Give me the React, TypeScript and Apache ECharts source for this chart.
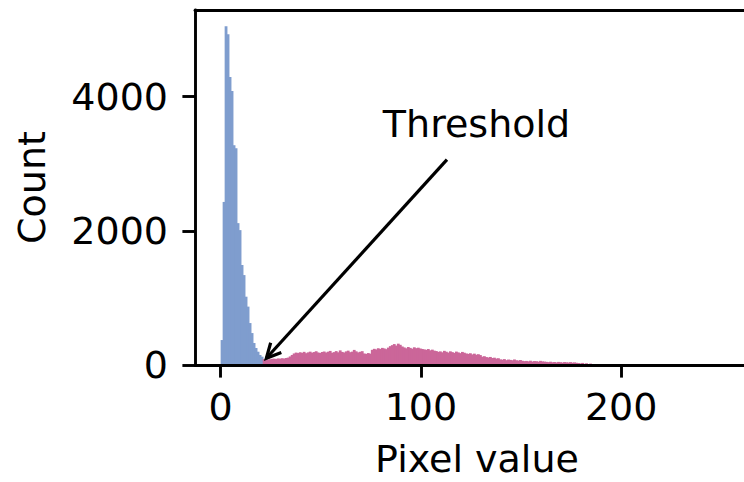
import React, { useEffect, useRef } from 'react';
import * as echarts from 'echarts';

// Histogram bins of width 1 (bin i covers [i, i+1))
const blueStart = 0;
const blueCounts = [
  372, 2430, 5047, 4930, 4290, 4084, 3275, 3230, 2114, 2010,
  1490, 1340, 1018, 870, 625, 476, 328, 253, 198, 149, 124,
];
const pinkStart = 21;
const pinkCounts = [
  // 21-35
  88, 82, 79, 86, 92, 95, 90, 98, 94, 101, 96, 104, 110, 128, 150,
  // 36-50
  172, 185, 178, 190, 181, 196, 176, 188, 199, 184, 193, 205, 187, 179, 194,
  // 51-70
  201, 186, 198, 210, 183, 192, 207, 189, 218, 195, 186, 203, 214, 191, 199, 225, 204, 188, 197, 206,
  // 71-74
  172, 165, 178, 169,
  // 75-83
  226, 241, 232, 250, 238, 255, 247, 236, 259,
  // 84-90
  281, 296, 312, 290, 318, 301, 276,
  // 91-100
  262, 249, 268, 255, 243, 264, 251, 258, 246, 239,
  // 101-106
  233, 226, 238, 219, 229, 214,
  // 107-121
  208, 196, 203, 189, 211, 198, 185, 204, 192, 181, 200, 188, 177, 195, 183,
  // 122-129
  172, 166, 175, 158, 169, 153, 161, 148,
  // 130-138
  124, 131, 118, 112, 120, 104, 109, 96, 101,
  // 139-149
  84, 79, 88, 72, 81, 76, 69, 83, 71, 66, 74,
  // 150-161
  63, 58, 61, 55, 64, 52, 59, 57, 50, 62, 54, 51,
  // 162-176
  47, 43, 49, 41, 45, 38, 46, 42, 36, 44, 40, 37, 43, 35, 39,
  // 177-185
  33, 29, 24, 31, 18, 26, 14, 21, 12,
];
const xTicks = [0, 100, 200];
const yTicks = [0, 2000, 4000];
const xRange = [-12.8, 268.8];
const yRange = [0, 5290];
const xLabel = 'Pixel value';
const yLabel = 'Count';
const annotationText = 'Threshold';
const annotationTextAt = [81, 3305];
const arrowFrom = [113, 3060];
const arrowTo = [22.8, 100];

const BLUE = '#7f9dce';
const PINK = '#cb6699';
const FONT = 'DejaVu Sans';
const FS = 38;

export default function App() {
  const ref = useRef<HTMLDivElement>(null);
  useEffect(() => {
    document.body.style.margin = '0';
    const chart = echarts.init(ref.current!, null, { renderer: 'svg' });
    const blueData = blueCounts.map((c, i) => [blueStart + i, c]);
    const pinkData = pinkCounts.map((c, i) => [pinkStart + i, c]);
    const renderBar = (color: string) => (_params: any, api: any) => {
      const x = api.value(0);
      const y = api.value(1);
      const p0 = api.coord([x, 0]);
      const p1 = api.coord([x + 1, y]);
      return {
        type: 'rect',
        shape: { x: p0[0], y: p1[1], width: p1[0] - p0[0] + 0.8, height: p0[1] - p1[1] },
        style: { fill: color },
      };
    };
    const axisCommon = {
      axisLine: { show: true, onZero: false, lineStyle: { color: '#000', width: 2.9 } },
      splitLine: { show: false },
      z: 10,
    };
    const plain = (v: number) => String(v);
    chart.setOption({
      animation: false,
      grid: { left: 195, top: 10, width: 564, height: 355, outerBoundsMode: 'none', containLabel: false },
      xAxis: [
        {
          type: 'value',
          min: xRange[0],
          max: xRange[1],
          position: 'bottom',
          ...axisCommon,
          axisTick: { show: true, length: 12.6, lineStyle: { color: '#000', width: 2.9 }, customValues: xTicks },
          axisLabel: { customValues: xTicks, formatter: plain, margin: 23, color: '#000', fontSize: FS, fontFamily: FONT },
          name: xLabel,
          nameLocation: 'middle',
          nameGap: 78,
          nameTextStyle: { color: '#000', fontSize: FS, fontFamily: FONT, lineHeight: 32 },
        },
        {
          type: 'value',
          min: xRange[0],
          max: xRange[1],
          position: 'top',
          ...axisCommon,
          axisTick: { show: false },
          axisLabel: { show: false },
        },
      ],
      yAxis: [
        {
          type: 'value',
          min: yRange[0],
          max: yRange[1],
          position: 'left',
          ...axisCommon,
          axisTick: { show: true, length: 12.6, lineStyle: { color: '#000', width: 2.9 }, customValues: yTicks },
          axisLabel: { customValues: yTicks, formatter: plain, margin: 27, color: '#000', fontSize: FS, fontFamily: FONT },
          name: yLabel,
          nameLocation: 'middle',
          nameGap: 144,
          nameTextStyle: { color: '#000', fontSize: FS, fontFamily: FONT },
        },
        {
          type: 'value',
          min: yRange[0],
          max: yRange[1],
          position: 'right',
          ...axisCommon,
          axisTick: { show: false },
          axisLabel: { show: false },
        },
      ],
      series: [
        { type: 'custom', name: 'below', renderItem: renderBar(BLUE), data: blueData, encode: { x: 0, y: 1 }, z: 2 },
        { type: 'custom', name: 'above', renderItem: renderBar(PINK), data: pinkData, encode: { x: 0, y: 1 }, z: 2 },
      ],
    });

    const from = chart.convertToPixel({ gridIndex: 0 }, arrowFrom) as number[];
    const to = chart.convertToPixel({ gridIndex: 0 }, arrowTo) as number[];
    const txt = chart.convertToPixel({ gridIndex: 0 }, annotationTextAt) as number[];
    const dx = to[0] - from[0];
    const dy = to[1] - from[1];
    const len = Math.hypot(dx, dy);
    const ux = dx / len;
    const uy = dy / len;
    const headLen = 14.4;
    const headW = 7.2;
    const bx = to[0] - ux * headLen;
    const by = to[1] - uy * headLen;
    const left = [bx - uy * headW, by + ux * headW];
    const right = [bx + uy * headW, by - ux * headW];
    const stroke = { stroke: '#000', lineWidth: 3.2, fill: 'none' };
    chart.setOption({
      graphic: [
        { type: 'line', shape: { x1: from[0], y1: from[1], x2: to[0], y2: to[1] }, style: stroke, z: 20 },
        { type: 'polyline', shape: { points: [left, to, right] }, style: { ...stroke, lineJoin: 'miter' }, z: 20 },
        {
          type: 'text',
          x: txt[0],
          y: txt[1],
          style: {
            text: annotationText,
            fill: '#000',
            fontSize: FS,
            fontFamily: FONT,
            align: 'left',
            verticalAlign: 'bottom',
          },
          z: 20,
        },
      ],
    });
    return () => chart.dispose();
  }, []);
  return <div ref={ref} style={{ width: 744, height: 482 }} />;
}
